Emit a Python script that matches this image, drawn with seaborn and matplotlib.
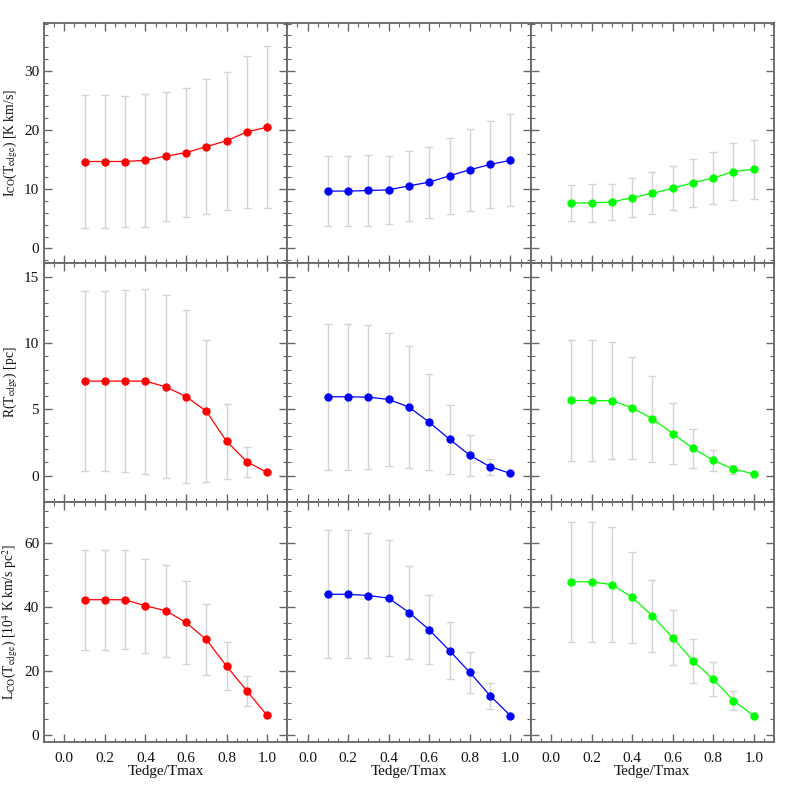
import numpy as np
import matplotlib
matplotlib.use("Agg")
import matplotlib.pyplot as plt
import seaborn as sns
from matplotlib.ticker import MultipleLocator

# Tedge/Tmax steps
tedge = [0.1, 0.2, 0.3, 0.4, 0.5, 0.6, 0.7, 0.8, 0.9, 1.0]

# row 1: I_CO(T_edge) [K km/s]
ico_red = [14.7, 14.7, 14.7, 14.9, 15.6, 16.2, 17.2, 18.2, 19.7, 20.5]
ico_red_err = [11.3, 11.3, 11.15, 11.25, 10.9, 10.95, 11.45, 11.7, 12.85, 13.65]
ico_blue = [9.7, 9.7, 9.8, 9.9, 10.6, 11.2, 12.3, 13.3, 14.2, 14.9]
ico_blue_err = [5.9, 5.9, 5.95, 5.75, 5.9, 6.0, 6.4, 6.9, 7.4, 7.8]
ico_green = [7.7, 7.7, 7.85, 8.6, 9.3, 10.2, 11.1, 11.9, 13.0, 13.4]
ico_green_err = [3.1, 3.2, 3.1, 3.3, 3.55, 3.75, 4.05, 4.35, 4.8, 5.0]

# row 2: R(T_edge) [pc]
r_red = [7.13, 7.13, 7.13, 7.13, 6.7, 5.97, 4.87, 2.6, 1.06, 0.25]
r_red_err = [6.8, 6.8, 6.84, 6.96, 6.88, 6.5, 5.33, 2.84, 1.14, 0.0]
r_blue = [5.95, 5.95, 5.92, 5.75, 5.17, 4.03, 2.75, 1.54, 0.68, 0.18]
r_blue_err = [5.48, 5.48, 5.41, 5.0, 4.6, 3.63, 2.6, 1.53, 0.62, 0.0]
r_green = [5.67, 5.67, 5.65, 5.12, 4.29, 3.18, 2.07, 1.16, 0.5, 0.15]
r_green_err = [4.56, 4.56, 4.39, 3.82, 3.23, 2.31, 1.46, 0.8, 0.34, 0.0]

# row 3: L_CO(T_edge) [10^4 K km/s pc^2]
lco_red = [42.3, 42.3, 42.3, 40.4, 38.9, 35.2, 29.9, 21.6, 13.9, 6.2]
lco_red_err = [15.55, 15.55, 15.5, 14.65, 14.35, 13.1, 11.05, 7.6, 4.7, 0.0]
lco_blue = [44.0, 44.0, 43.6, 42.8, 38.3, 32.9, 26.4, 19.6, 12.35, 6.1]
lco_blue_err = [20.0, 20.0, 19.55, 18.05, 14.6, 10.8, 8.8, 6.5, 4.1, 0.0]
lco_green = [47.9, 47.9, 47.0, 43.1, 37.3, 30.5, 23.25, 17.5, 10.8, 6.1]
lco_green_err = [18.7, 18.7, 17.95, 14.25, 11.2, 8.65, 6.85, 5.4, 2.9, 0.0]

colors = ["#ff0000", "#0000ff", "#00ff00"]
rows = [
    ([ico_red, ico_blue, ico_green], [ico_red_err, ico_blue_err, ico_green_err]),
    ([r_red, r_blue, r_green], [r_red_err, r_blue_err, r_green_err]),
    ([lco_red, lco_blue, lco_green], [lco_red_err, lco_blue_err, lco_green_err]),
]
ylabels = [
    r"I$_{\rm CO}$(T$_{\rm edge}$) [K km/s]",
    r"R(T$_{\rm edge}$) [pc]",
    r"L$_{\rm CO}$(T$_{\rm edge}$) [10$^4$ K km/s pc$^2$]",
]
ylims = [(-2.4, 38.1), (-2.0, 16.05), (-2.1, 72.7)]
ymajor = [10, 5, 20]
yminor = [2, 1, 5]

sns.set_style("ticks")
plt.rcParams["font.family"] = ["Liberation Serif", "DejaVu Serif"]
plt.rcParams["mathtext.fontset"] = "stix"
plt.rcParams["font.size"] = 11

fig, axes = plt.subplots(3, 3, figsize=(7.89, 7.89), dpi=100, sharex=True, sharey="row")
fig.subplots_adjust(left=0.0558, right=0.981, top=0.9708, bottom=0.0596, wspace=0, hspace=0)

for i, (vals, errs) in enumerate(rows):
    for j in range(3):
        ax = axes[i, j]
        ax.errorbar(tedge, vals[j], yerr=errs[j], fmt="none", ecolor="#d4d4d4",
                    elinewidth=1.0, capsize=3, capthick=1.0, zorder=1)
        sns.lineplot(x=tedge, y=vals[j], ax=ax, color=colors[j], marker="o",
                     markersize=6, markeredgewidth=0, linewidth=0.9, zorder=3)
        ax.set_xlim(-0.1, 1.1)
        ax.set_ylim(*ylims[i])
        ax.xaxis.set_major_locator(MultipleLocator(0.2))
        ax.xaxis.set_minor_locator(MultipleLocator(0.05))
        ax.yaxis.set_major_locator(MultipleLocator(ymajor[i]))
        ax.yaxis.set_minor_locator(MultipleLocator(yminor[i]))
        ax.tick_params(which="both", direction="in", top=True, right=True,
                       color="#666666", labelcolor="#111111", labelsize=11)
        ax.tick_params(which="major", length=6, width=1.0)
        ax.tick_params(which="minor", length=3, width=0.8)
        ax.tick_params(axis="x", which="major", pad=7)
        for s in ax.spines.values():
            s.set_color("#666666")
            s.set_linewidth(1.3)
        if j == 0:
            ax.set_ylabel(ylabels[i], fontsize=9.8, color="#111111", labelpad=3)
        if i == 2:
            ax.set_xlabel("Tedge/Tmax", fontsize=11, color="#111111", labelpad=0)

plt.savefig("out.png", dpi=100)
